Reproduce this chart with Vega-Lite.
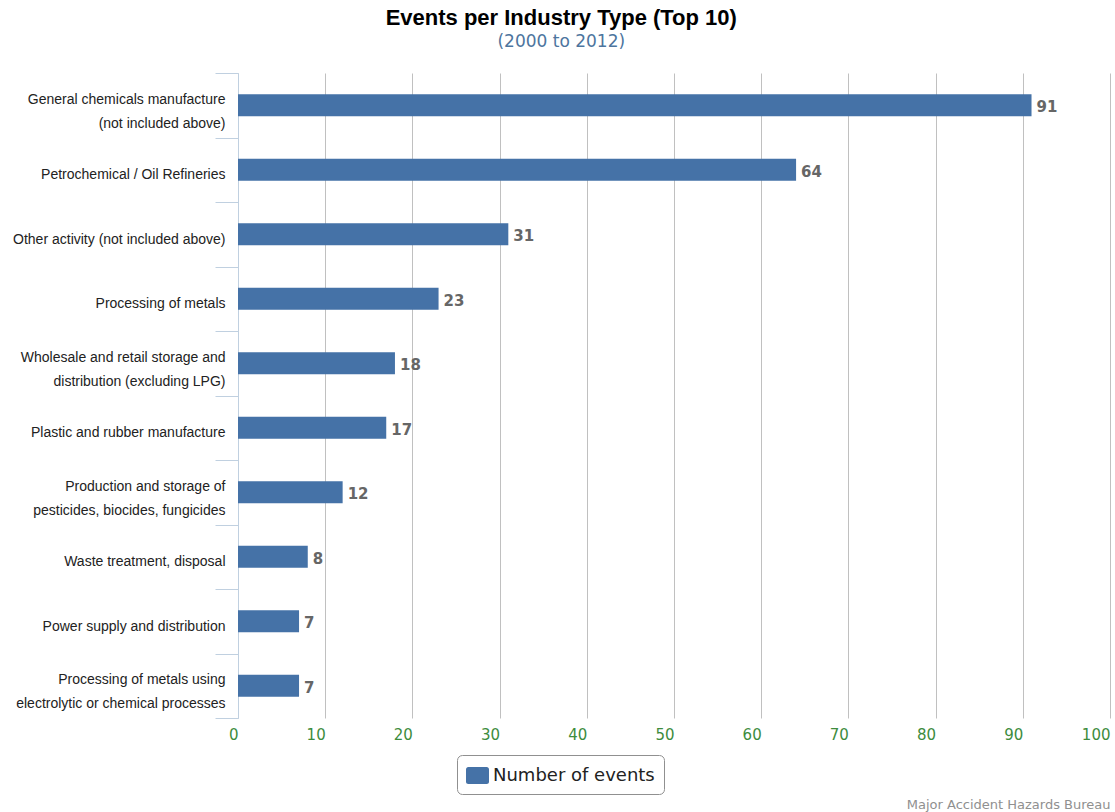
{
  "$schema": "https://vega.github.io/schema/vega-lite/v6.json",
  "width": 872,
  "height": 645,
  "autosize": {"type": "none"},
  "padding": {"left": 238, "top": 73, "right": 5, "bottom": 94},
  "background": "white",
  "view": {"stroke": null},
  "title": {
    "text": "Events per Industry Type (Top 10)",
    "subtitle": "(2000 to 2012)",
    "anchor": "middle",
    "frame": "bounds",
    "font": "Liberation Sans",
    "fontSize": 22,
    "fontWeight": "bold",
    "color": "#000000",
    "subtitleFont": "DejaVu Sans",
    "subtitleFontSize": 17,
    "subtitleColor": "#4d759e",
    "subtitlePadding": 4,
    "offset": 15
  },
  "data": {
    "values": [
      {"industry": "General chemicals manufacture|(not included above)", "events": 91, "series": "Number of events"},
      {"industry": "Petrochemical / Oil Refineries", "events": 64, "series": "Number of events"},
      {"industry": "Other activity (not included above)", "events": 31, "series": "Number of events"},
      {"industry": "Processing of metals", "events": 23, "series": "Number of events"},
      {"industry": "Wholesale and retail storage and|distribution (excluding LPG)", "events": 18, "series": "Number of events"},
      {"industry": "Plastic and rubber manufacture", "events": 17, "series": "Number of events"},
      {"industry": "Production and storage of|pesticides, biocides, fungicides", "events": 12, "series": "Number of events"},
      {"industry": "Waste treatment, disposal", "events": 8, "series": "Number of events"},
      {"industry": "Power supply and distribution", "events": 7, "series": "Number of events"},
      {"industry": "Processing of metals using|electrolytic or chemical processes", "events": 7, "series": "Number of events"}
    ]
  },
  "encoding": {
    "y": {
      "field": "industry",
      "type": "nominal",
      "sort": null,
      "scale": {"paddingInner": 0, "paddingOuter": 0},
      "axis": {
        "title": null,
        "tickBand": "extent",
        "domainColor": "#C0D0E0",
        "tickColor": "#C0D0E0",
        "tickSize": 23,
        "labelPadding": -10,
        "labelOffset": {"condition": {"test": "indexof(datum.label, '|') >= 0", "value": -6}, "value": 5},
        "labelFont": "Liberation Sans",
        "labelFontSize": 14,
        "labelColor": "#222222",
        "labelLineHeight": 24,
        "labelLimit": 260,
        "labelExpr": "split(datum.label, '|')",
        "grid": false
      }
    },
    "x": {
      "field": "events",
      "type": "quantitative",
      "scale": {"domain": [0, 100], "nice": false},
      "axis": {
        "values": [0, 10, 20, 30, 40, 50, 60, 70, 80, 90, 100],
        "grid": true,
        "gridColor": "#C0C0C0",
        "gridWidth": 1,
        "domain": false,
        "ticks": false,
        "tickSize": 0,
        "labelAlign": "right",
        "labelPadding": 9,
        "labelFont": "DejaVu Sans",
        "labelFontSize": 15,
        "labelColor": "#3d8c3d",
        "title": "Major Accident Hazards Bureau",
        "titleFont": "DejaVu Sans",
        "titleFontSize": 13,
        "titleFontWeight": "normal",
        "titleColor": "#909090",
        "titleAnchor": "end",
        "titleAlign": "right",
        "titleBaseline": "alphabetic",
        "titleX": 872,
        "titleY": 90
      }
    }
  },
  "layer": [
    {
      "mark": {"type": "bar", "height": {"band": 0.34}},
      "encoding": {
        "color": {
          "field": "series",
          "type": "nominal",
          "scale": {"range": ["#4572A7"]},
          "legend": {
            "title": null,
            "orient": "none",
            "legendX": 219,
            "legendY": 682,
            "padding": 9,
            "strokeColor": "#909090",
            "fillColor": "white",
            "cornerRadius": 5,
            "labelFont": "DejaVu Sans",
            "labelFontSize": 18,
            "labelColor": "#222222",
            "labelOffset": 4,
            "labelLimit": 400,
            "symbolType": "M-0.8,-0.74H0.8A0.2,0.2 0 0 1 1,-0.54V0.54A0.2,0.2 0 0 1 0.8,0.74H-0.8A0.2,0.2 0 0 1 -1,0.54V-0.54A0.2,0.2 0 0 1 -0.8,-0.74Z",
            "symbolSize": 529,
            "symbolStrokeWidth": 0,
            "symbolOpacity": 1
          }
        }
      }
    },
    {
      "mark": {
        "type": "text",
        "align": "left",
        "baseline": "middle",
        "dx": 5,
        "dy": 2,
        "font": "DejaVu Sans",
        "fontSize": 15,
        "fontWeight": "bold",
        "color": "#666666"
      },
      "encoding": {
        "text": {"field": "events", "type": "quantitative"}
      }
    }
  ]
}
